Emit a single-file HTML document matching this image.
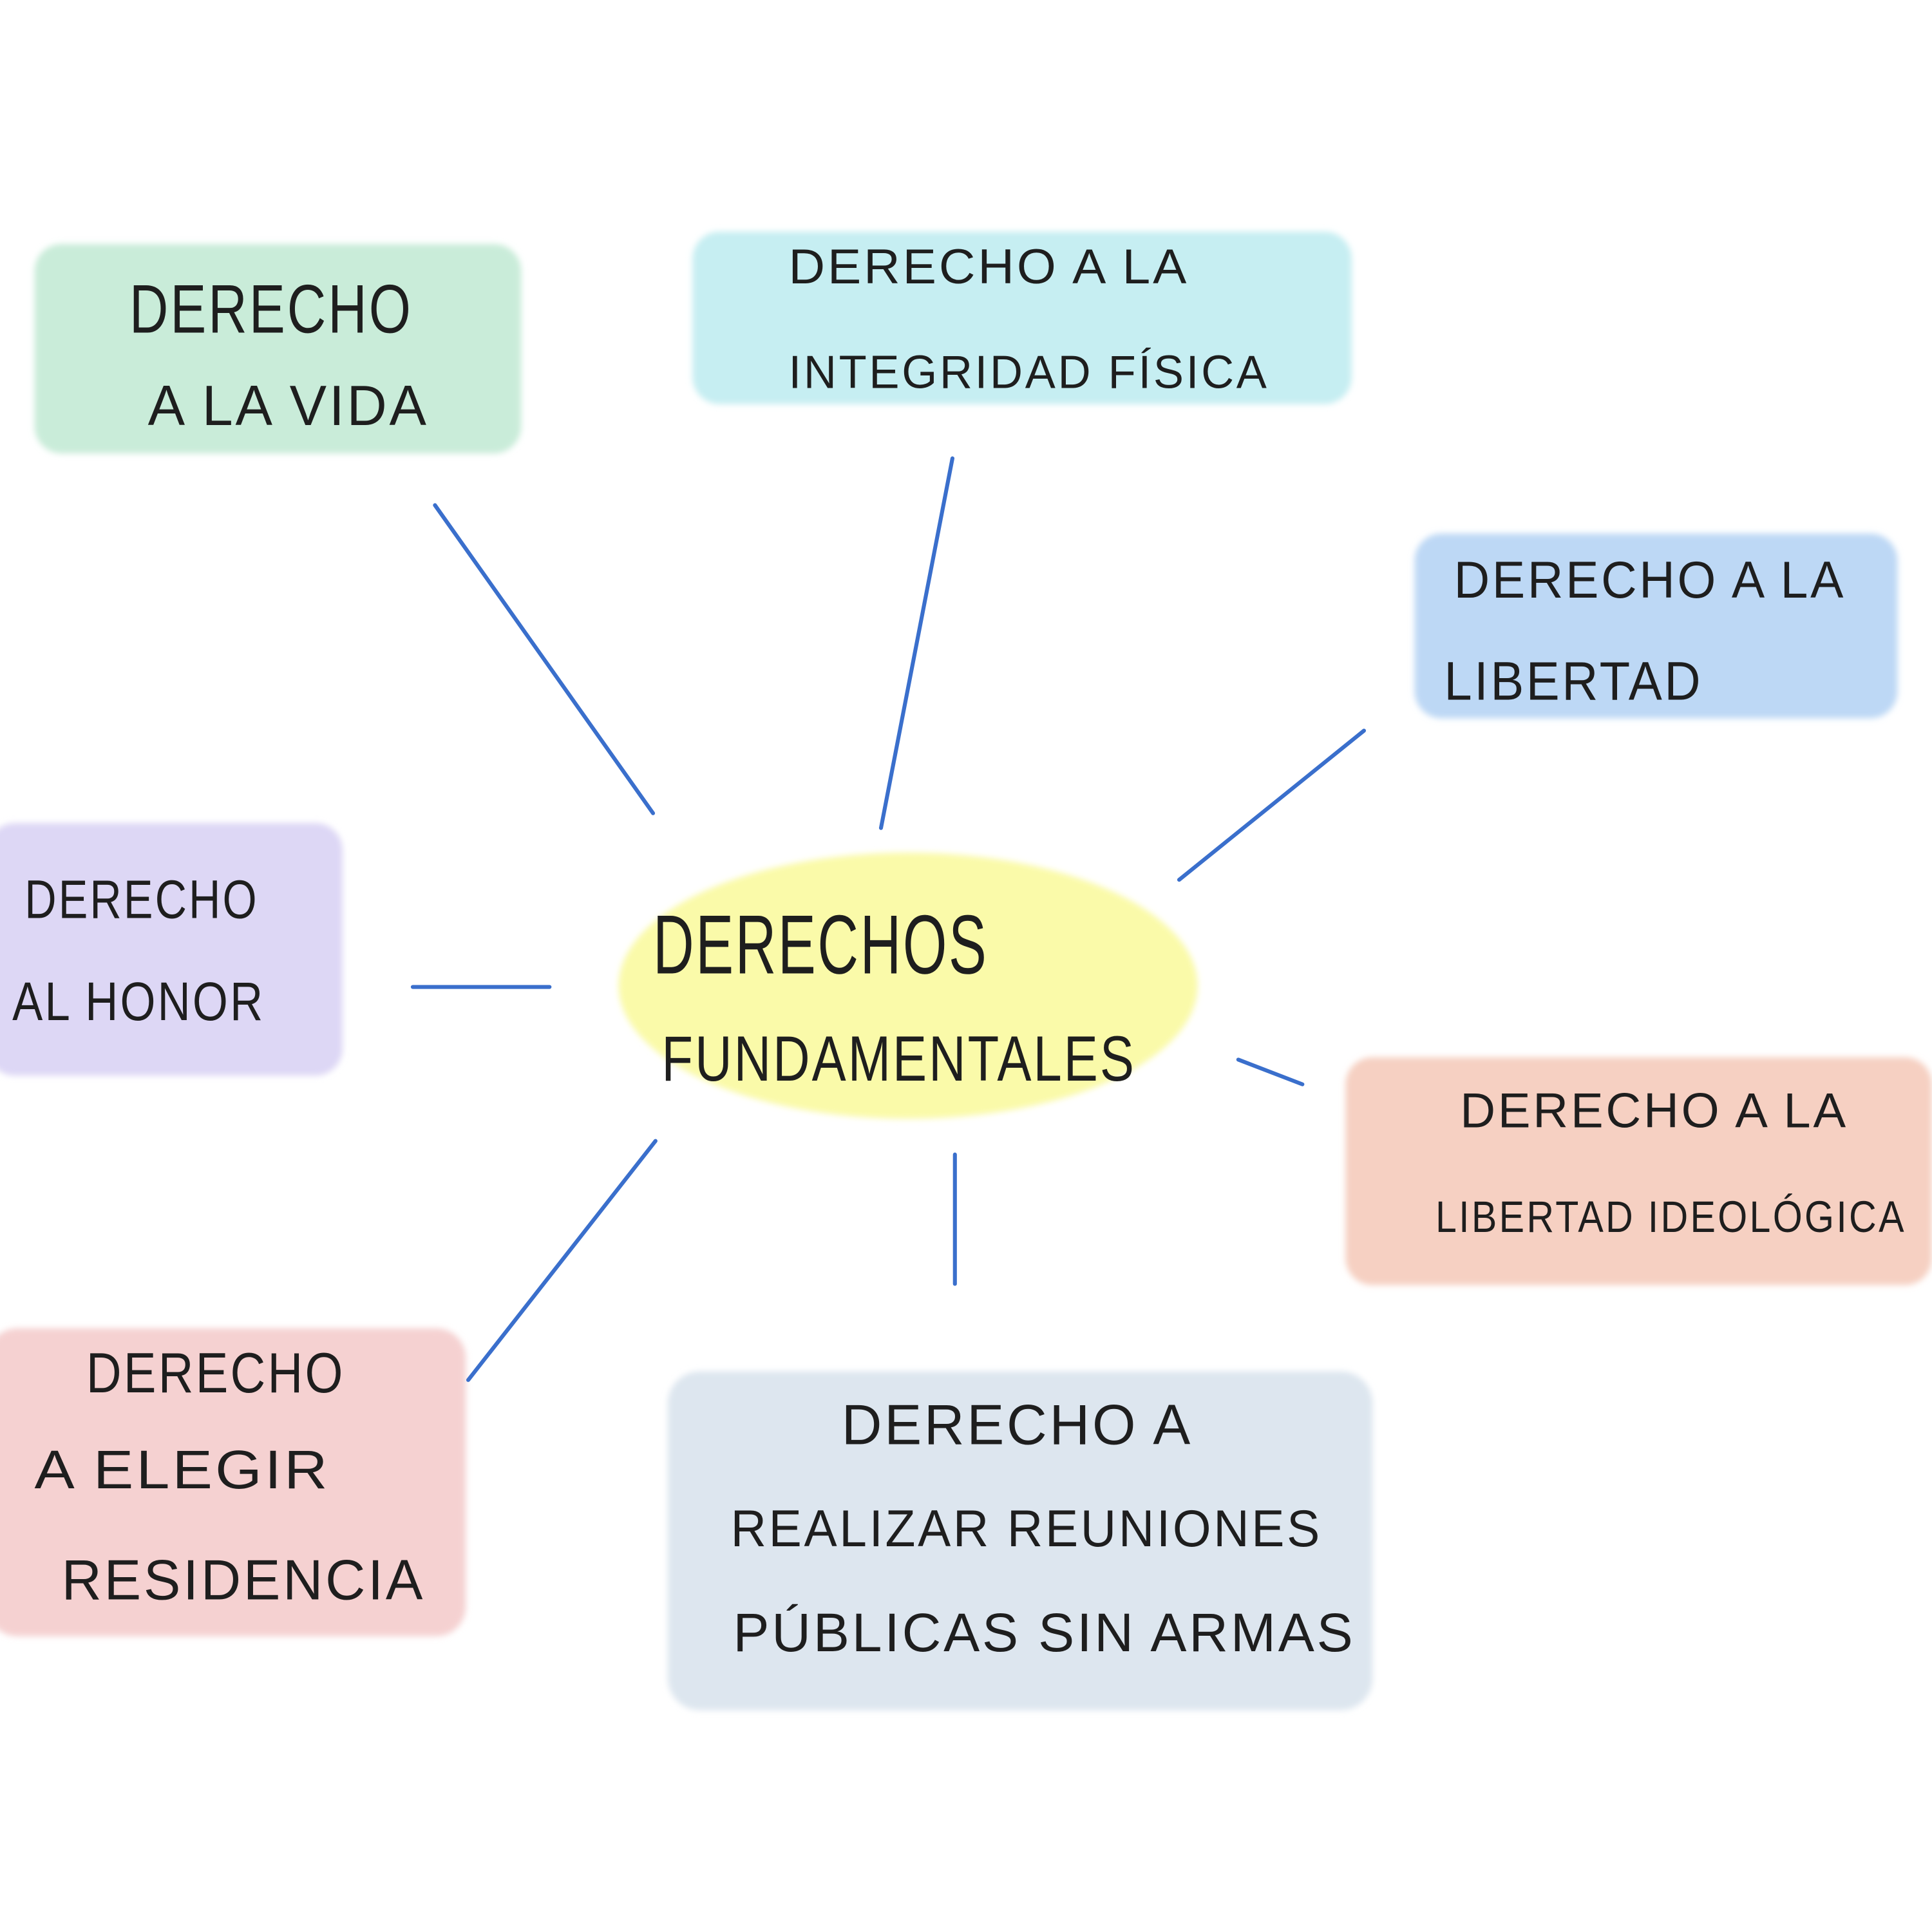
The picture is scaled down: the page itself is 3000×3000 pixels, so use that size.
<!DOCTYPE html>
<html><head><meta charset="utf-8"><style>
html,body{margin:0;padding:0;background:#fff;width:3000px;height:3000px;overflow:hidden}
svg{display:block}
text{font-family:"Liberation Sans",sans-serif;fill:#1e1e1e;letter-spacing:2px}
</style></head><body>
<svg width="3000" height="3000" viewBox="0 0 1568 1568" xmlns="http://www.w3.org/2000/svg">
<defs><filter id="f" x="-5%" y="-5%" width="110%" height="110%"><feGaussianBlur stdDeviation="2.5"/></filter></defs>
<rect width="1568" height="1568" fill="#fff"/>
<g filter="url(#f)">
<rect x="28" y="198" width="395" height="170" rx="22" fill="#c9ecd9"/>
<rect x="562" y="188" width="535" height="140" rx="22" fill="#c6eef2"/>
<rect x="1148" y="433" width="392" height="150" rx="22" fill="#bdd8f5"/>
<rect x="-10" y="668" width="288" height="205" rx="22" fill="#ddd7f5"/>
<ellipse cx="737" cy="800" rx="235" ry="108" fill="#fafaa9"/>
<rect x="1092" y="858" width="476" height="185" rx="22" fill="#f6d0c2"/>
<rect x="-10" y="1078" width="388" height="250" rx="24" fill="#f5d1d1"/>
<rect x="542" y="1113" width="572" height="275" rx="26" fill="#dde6ef"/>
</g>
<g stroke="#3a6fcc" stroke-width="3.2" stroke-linecap="round">
<line x1="353" y1="410" x2="530" y2="660"/>
<line x1="773" y1="372" x2="715" y2="672"/>
<line x1="1107" y1="593" x2="957" y2="714"/>
<line x1="335" y1="801" x2="446" y2="801"/>
<line x1="1005" y1="860" x2="1057" y2="880"/>
<line x1="532" y1="926" x2="380" y2="1120"/>
<line x1="775" y1="937" x2="775" y2="1042"/>
</g>
<text x="105" y="270" font-size="56" textLength="230" lengthAdjust="spacingAndGlyphs">DERECHO</text>
<text x="120" y="345" font-size="46" textLength="228" lengthAdjust="spacingAndGlyphs">A LA VIDA</text>
<text x="640" y="230" font-size="40" textLength="325" lengthAdjust="spacingAndGlyphs">DERECHO  A LA</text>
<text x="640" y="315" font-size="38" textLength="390" lengthAdjust="spacingAndGlyphs">INTEGRIDAD FÍSICA</text>
<text x="1180" y="485" font-size="42" textLength="318" lengthAdjust="spacingAndGlyphs">DERECHO  A  LA</text>
<text x="1172" y="568" font-size="44" textLength="210" lengthAdjust="spacingAndGlyphs">LIBERTAD</text>
<text x="20" y="745" font-size="44" textLength="190" lengthAdjust="spacingAndGlyphs">DERECHO</text>
<text x="10" y="828" font-size="44" textLength="205" lengthAdjust="spacingAndGlyphs">AL HONOR</text>
<text x="530" y="790" font-size="68" textLength="272" lengthAdjust="spacingAndGlyphs">DERECHOS</text>
<text x="537" y="877" font-size="52" textLength="385" lengthAdjust="spacingAndGlyphs">FUNDAMENTALES</text>
<text x="1185" y="915" font-size="40" textLength="315" lengthAdjust="spacingAndGlyphs">DERECHO  A  LA</text>
<text x="1165" y="1000" font-size="36" textLength="382" lengthAdjust="spacingAndGlyphs">LIBERTAD IDEOLÓGICA</text>
<text x="70" y="1130" font-size="46" textLength="210" lengthAdjust="spacingAndGlyphs">DERECHO</text>
<text x="28" y="1208" font-size="44" textLength="240" lengthAdjust="spacingAndGlyphs">A ELEGIR</text>
<text x="50" y="1298" font-size="46" textLength="295" lengthAdjust="spacingAndGlyphs">RESIDENCIA</text>
<text x="683" y="1172" font-size="46" textLength="285" lengthAdjust="spacingAndGlyphs">DERECHO  A</text>
<text x="593" y="1255" font-size="42" textLength="480" lengthAdjust="spacingAndGlyphs">REALIZAR  REUNIONES</text>
<text x="595" y="1340" font-size="44" textLength="505" lengthAdjust="spacingAndGlyphs">PÚBLICAS SIN ARMAS</text>
</svg>
</body></html>
